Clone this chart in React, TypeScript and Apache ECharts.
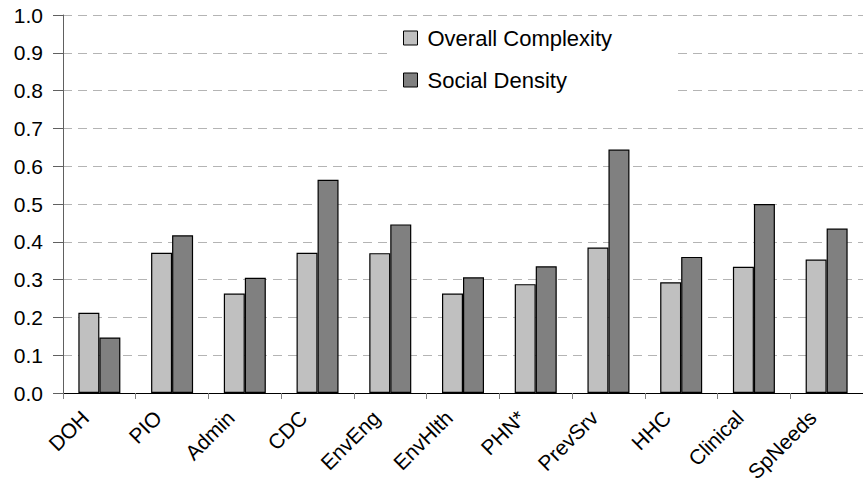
import React, { useEffect, useRef } from "react";
import * as echarts from "echarts";

const categories = ["DOH", "PIO", "Admin", "CDC", "EnvEng", "EnvHlth", "PHN*", "PrevSrv", "HHC", "Clinical", "SpNeeds"];
const overallComplexity = [0.212, 0.371, 0.263, 0.371, 0.370, 0.263, 0.288, 0.385, 0.293, 0.334, 0.353];
const socialDensity = [0.147, 0.417, 0.305, 0.564, 0.446, 0.306, 0.335, 0.644, 0.360, 0.500, 0.435];
const seriesNames = ["Overall Complexity", "Social Density"];

export default function App() {
  const ref = useRef<HTMLDivElement>(null);
  useEffect(() => {
    if (!ref.current) return;
    const chart = echarts.init(ref.current, null, { renderer: "svg" });
    const font = "'Liberation Sans', Arial, sans-serif";
    chart.setOption({
      animation: false,
      backgroundColor: "#ffffff",
      textStyle: { fontFamily: font },
      grid: { left: 63, right: -11, top: 15, bottom: 96, containLabel: false },
      legend: {
        orient: "vertical",
        left: 393,
        top: 21,
        itemGap: 20,
        itemWidth: 14,
        itemHeight: 14,
        icon: "rect",
        backgroundColor: "#ffffff",
        padding: [6, 63, 10, 10],
        itemStyle: { borderColor: "#000", borderWidth: 1 },
        textStyle: { fontSize: 22, color: "#000", fontFamily: font, padding: [0, 0, 0, 5] },
        data: seriesNames,
      },
      xAxis: {
        type: "category",
        data: categories,
        axisLine: { lineStyle: { color: "#000", width: 1 } },
        axisTick: { show: true, inside: false, length: 6, lineStyle: { color: "#808080" } },
        axisLabel: { rotate: 45, fontSize: 21, color: "#000", margin: 7, padding: [0, 20, 0, 0], fontFamily: font },
      },
      yAxis: {
        type: "value",
        min: 0,
        max: 1,
        interval: 0.1,
        axisLine: { show: true, lineStyle: { color: "#606060" } },
        axisTick: { show: true, length: 10, lineStyle: { color: "#606060" } },
        axisLabel: { fontSize: 21, color: "#000", margin: 20, fontFamily: font, formatter: (v: number) => v.toFixed(1) },
        splitLine: { show: true, lineStyle: { color: "#b4b4b4", type: [9, 6], width: 1 } },
      },
      series: [
        {
          name: seriesNames[0],
          type: "bar",
          data: overallComplexity,
          barWidth: 21,
          barGap: "0%",
          itemStyle: { color: "#c0c0c0", borderColor: "#000", borderWidth: 1.2 },
        },
        {
          name: seriesNames[1],
          type: "bar",
          data: socialDensity,
          barWidth: 21,
          barGap: "0%",
          itemStyle: { color: "#808080", borderColor: "#000", borderWidth: 1.2 },
        },
      ],
    });
    return () => chart.dispose();
  }, []);
  return <div ref={ref} style={{ width: 863, height: 489, position: "absolute", left: 0, top: 0 }} />;
}
